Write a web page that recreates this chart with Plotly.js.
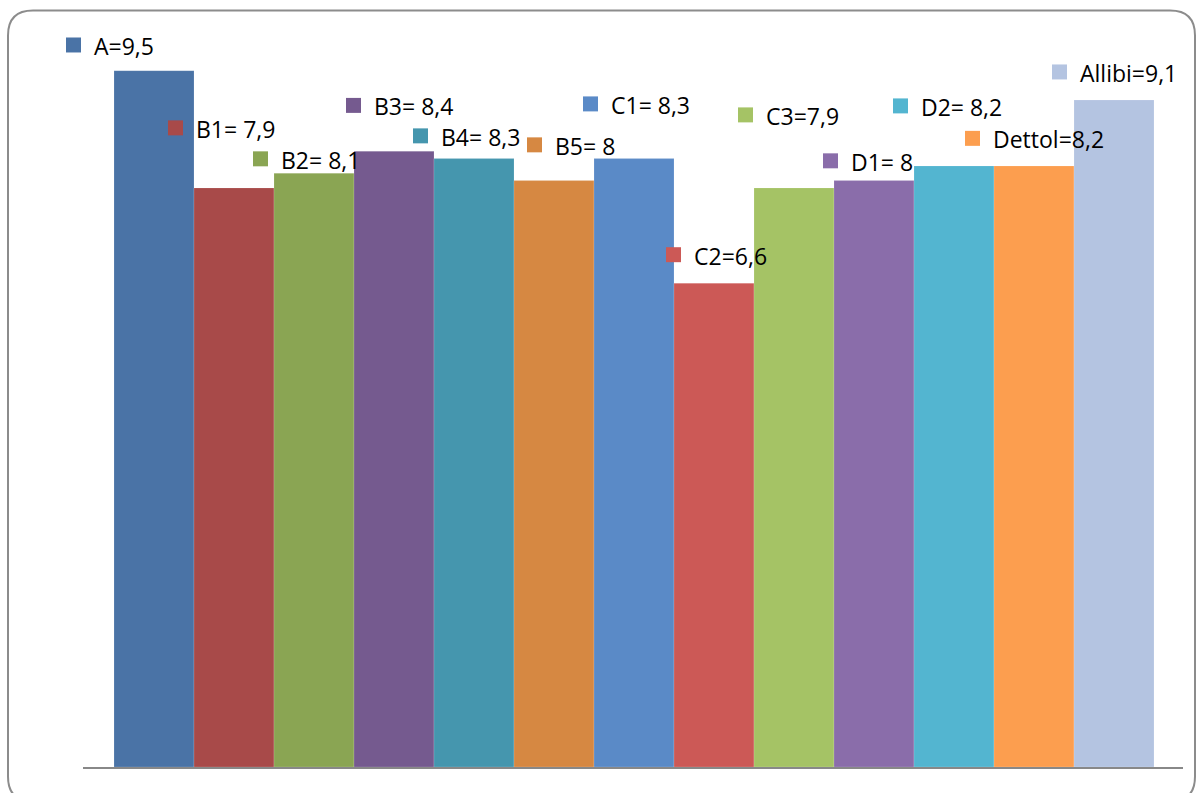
<!DOCTYPE html>
<html>
<head>
<meta charset="utf-8">
<script src="https://cdn.plot.ly/plotly-3.0.1.min.js"></script>
<style>
  html, body { margin: 0; padding: 0; background: #ffffff; }
  #chart { width: 1196px; height: 793px; }
</style>
</head>
<body>
<div id="chart"></div>
<script>
// Product scores
const categories = ['A', 'B1', 'B2', 'B3', 'B4', 'B5', 'C1', 'C2', 'C3', 'D1', 'D2', 'Dettol', 'Allibi'];
const values = [9.5, 7.9, 8.1, 8.4, 8.3, 8.0, 8.3, 6.6, 7.9, 8.0, 8.2, 8.2, 9.1];
const separators = ['=', '= ', '= ', '= ', '= ', '= ', '= ', '=', '=', '= ', '= ', '=', '='];
const colors = ['#4A73A6', '#A84A49', '#8AA553', '#755A8F', '#4596AE', '#D68842',
                '#5A8AC7', '#CC5956', '#A5C365', '#8A6DAA', '#53B5D0', '#FC9E4F', '#B4C4E1'];

// Label placement in page pixels: left edge of the colour key, vertical centre
const labelPos = [
  [66, 44.5], [168, 127.5], [253, 158.5], [346, 105], [413, 135.5], [527, 144.5],
  [583, 103.5], [666, 254.5], [738, 114.5], [823, 160.5], [893, 105.5], [965, 138], [1052, 71.5]
];

const W = 1196, H = 793;
const plotL = 83, plotR = 1183, plotT = 33.5, plotB = 767.5;
const px = x => (x - plotL) / (plotR - plotL);
const py = y => (plotB - y) / (plotB - plotT);

function fmt(v) {
  return String(v).replace('.', ',');
}

const shapes = [];
const annotations = [];
const key = 15;

categories.forEach((c, i) => {
  const [lx, ly] = labelPos[i];
  shapes.push({
    type: 'rect', xref: 'paper', yref: 'paper',
    x0: px(lx), x1: px(lx + key), y0: py(ly + key / 2), y1: py(ly - key / 2),
    fillcolor: colors[i], line: { width: 0 }
  });
  annotations.push({
    xref: 'paper', yref: 'paper', x: px(lx + 26), y: py(ly + 1),
    xanchor: 'left', yanchor: 'middle', showarrow: false,
    text: c + separators[i] + fmt(values[i]),
    font: { family: 'Open Sans, sans-serif', size: 23, color: '#000000' }
  });
});

// Rounded outer frame
const fx0 = 8, fx1 = 1195, fy0 = 10, fy1 = 802, r = 25;
const P = (x, y) => px(x) + ',' + py(y);
shapes.push({
  type: 'path', xref: 'paper', yref: 'paper',
  path: 'M' + P(fx0 + r, fy0) + ' L' + P(fx1 - r, fy0) +
        ' Q' + P(fx1, fy0) + ' ' + P(fx1, fy0 + r) +
        ' L' + P(fx1, fy1 - r) +
        ' Q' + P(fx1, fy1) + ' ' + P(fx1 - r, fy1) +
        ' L' + P(fx0 + r, fy1) +
        ' Q' + P(fx0, fy1) + ' ' + P(fx0, fy1 - r) +
        ' L' + P(fx0, fy0 + r) +
        ' Q' + P(fx0, fy0) + ' ' + P(fx0 + r, fy0) + ' Z',
  line: { color: '#8C8C8C', width: 2 },
  fillcolor: 'rgba(0,0,0,0)'
});

const trace = {
  type: 'bar',
  x: categories,
  y: values,
  width: 1,
  marker: { color: colors, line: { color: 'rgba(255,255,255,0.3)', width: 0.5 } },
  hoverinfo: 'x+y'
};

const layout = {
  width: W, height: H,
  margin: { l: plotL, r: W - plotR, t: plotT, b: H - plotB, pad: 0 },
  paper_bgcolor: '#ffffff', plot_bgcolor: '#ffffff',
  showlegend: false,
  bargap: 0,
  xaxis: {
    type: 'category', range: [-0.8875, 12.8625],
    showticklabels: false, ticks: '', showgrid: false, zeroline: false,
    showline: true, linecolor: '#888888', linewidth: 2
  },
  yaxis: {
    range: [0, 10], visible: false, showgrid: false, zeroline: false
  },
  shapes: shapes,
  annotations: annotations
};

Plotly.newPlot('chart', [trace], layout, { displayModeBar: false, staticPlot: true });
</script>
</body>
</html>
